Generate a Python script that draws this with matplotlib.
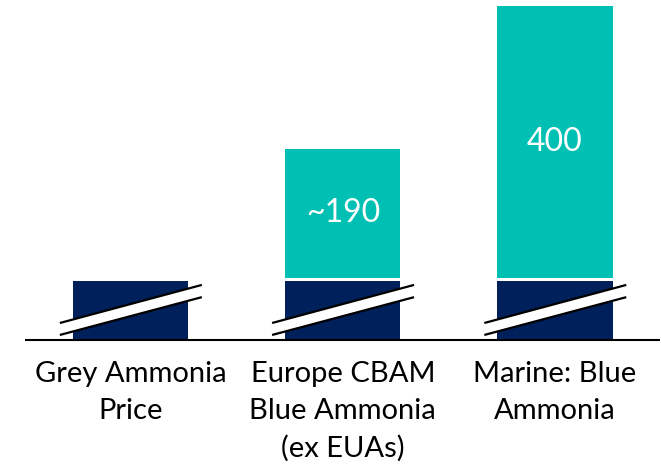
import matplotlib
matplotlib.use("Agg")
import matplotlib.pyplot as plt
from matplotlib.patches import Polygon

# Data
categories = ["Grey Ammonia\nPrice", "Europe CBAM\nBlue Ammonia\n(ex EUAs)", "Marine: Blue\nAmmonia"]
base_price = [87, 87, 87]          # grey ammonia price (axis broken)
premium = [0, 190, 400]            # blue ammonia premium
premium_labels = ["", "~190", "400"]

NAVY = "#00205B"
TEAL = "#00BFB3"
GAP = 4.5  # white separation between stacked segments

plt.rcParams["font.family"] = ["Lato", "DejaVu Sans"]

fig = plt.figure(figsize=(6.61, 4.65), dpi=100)
ax = fig.add_axes([0, 125 / 465, 1, 340 / 465])
ax.set_xlim(-0.615, 2.4995)
ax.set_ylim(0, 500)

x = list(range(len(categories)))
width = 0.542

ax.bar(x, base_price, width=width, color=NAVY, zorder=2)
tops = [b + GAP for b in base_price]
ax.bar(x, premium, width=width, bottom=tops, color=TEAL, zorder=2)

for xi, b, v, lab in zip(x, tops, premium, premium_labels):
    if lab:
        ax.text(xi, b + v / 2, lab, ha="center", va="center",
                color="white", fontsize=23, zorder=4)

# Axis-break marks across the base bars
for xi in x:
    x0, x1 = xi - 0.333, xi + 0.336
    top = [(x0, 25), (x1, 81)]
    bot = [(x0, 7.4), (x1, 63)]
    band = Polygon([top[0], top[1], bot[1], bot[0]], closed=True,
                   facecolor="white", edgecolor="none", zorder=3)
    ax.add_patch(band)
    for seg in (top, bot):
        ax.plot([seg[0][0], seg[1][0]], [seg[0][1], seg[1][1]],
                color="black", lw=1.6, solid_capstyle="butt", zorder=3)

# Baseline
ax.hlines(0, -0.497, 2.495, color="black", lw=1.5, zorder=5, clip_on=False)

for s in ax.spines.values():
    s.set_visible(False)
ax.set_yticks([])
ax.set_xticks(x)
ax.set_xticklabels(categories, fontsize=21, linespacing=1.52)
ax.tick_params(axis="x", length=0, pad=15)

fig.savefig("out.png", dpi=100)
